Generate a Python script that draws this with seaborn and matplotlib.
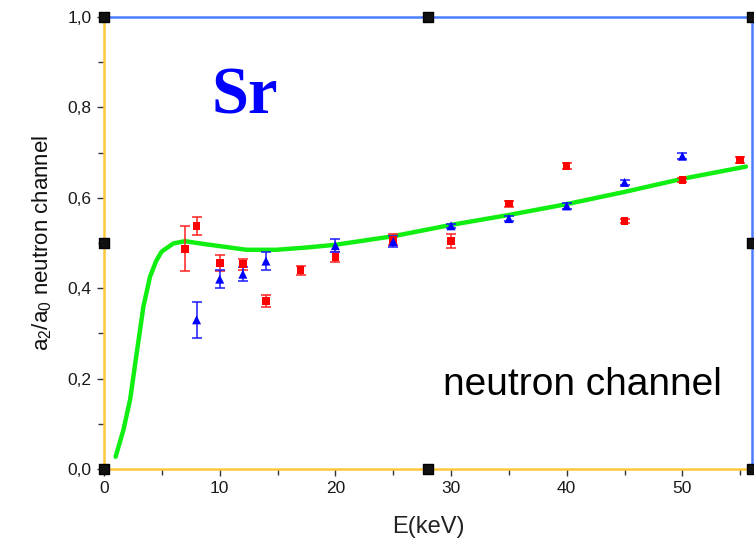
import matplotlib
matplotlib.use("Agg")
import matplotlib.pyplot as plt
from matplotlib.ticker import MultipleLocator, FuncFormatter
import pandas as pd
import seaborn as sns

# Measured anisotropy ratio, two data sets
red_E = [7, 8, 10, 12, 14, 17, 20, 25, 30, 35, 40, 45, 50, 55]
red_ratio = [0.487, 0.538, 0.456, 0.453, 0.372, 0.440, 0.469, 0.507,
             0.504, 0.587, 0.670, 0.549, 0.639, 0.684]
red_err = [0.050, 0.020, 0.018, 0.012, 0.013, 0.010, 0.011, 0.012,
           0.016, 0.007, 0.006, 0.005, 0.004, 0.006]

blue_E = [8, 10, 12, 14, 20, 25, 30, 35, 40, 45, 50]
blue_ratio = [0.330, 0.420, 0.431, 0.460, 0.494, 0.503, 0.538, 0.554,
              0.582, 0.634, 0.692]
blue_err = [0.040, 0.020, 0.016, 0.020, 0.015, 0.012, 0.005, 0.006,
            0.006, 0.006, 0.006]

# Calculated curve
calc_E = [1.0, 1.67, 2.25, 2.82, 3.4, 3.97, 4.5, 4.98, 5.99, 7.0, 8.3, 10.3,
          12.3, 14.9, 17.5, 20, 25, 30, 35, 40, 45, 50, 55.5]
calc_ratio = [0.027, 0.086, 0.153, 0.256, 0.359, 0.425, 0.460, 0.481, 0.499,
              0.504, 0.499, 0.492, 0.485, 0.485, 0.490, 0.496, 0.515, 0.540,
              0.562, 0.586, 0.613, 0.642, 0.669]

x_ticks = [0, 10, 20, 30, 40, 50]
y_ticks = [0.0, 0.2, 0.4, 0.6, 0.8, 1.0]

sns.set_style("white")
plt.rcParams["font.family"] = ["Liberation Sans", "DejaVu Sans"]
plt.rcParams["mathtext.fontset"] = "custom"
plt.rcParams["mathtext.rm"] = "Liberation Sans"
plt.rcParams["mathtext.it"] = "Liberation Sans"

fig = plt.figure(figsize=(7.54, 5.43), dpi=100)
ax = fig.add_axes([0.138, 0.1363, 0.859, 0.8324])

calc = pd.DataFrame({"E": calc_E, "r": calc_ratio})
sns.lineplot(data=calc, x="E", y="r", ax=ax, color="#11ee11", lw=3.2,
             sort=False, zorder=2)

red = pd.DataFrame({"E": red_E, "r": red_ratio, "err": red_err})
blue = pd.DataFrame({"E": blue_E, "r": blue_ratio, "err": blue_err})

ax.errorbar(red["E"], red["r"], yerr=red["err"], fmt="none", ecolor="#ff2020",
            elinewidth=1.1, capsize=3.5, capthick=1.1, zorder=3)
ax.errorbar(blue["E"], blue["r"], yerr=blue["err"], fmt="none", ecolor="#1a1aff",
            elinewidth=1.1, capsize=3.5, capthick=1.1, zorder=3)
sns.scatterplot(data=red, x="E", y="r", ax=ax, marker="s", s=30,
                color="#ff0000", edgecolor="none", zorder=4)
sns.scatterplot(data=blue, x="E", y="r", ax=ax, marker="^", s=42,
                color="#0000ff", edgecolor="none", zorder=5)

ax.set_xlim(0, 56)
ax.set_ylim(0, 1.0)
ax.set_xticks(x_ticks)
ax.set_yticks(y_ticks)
ax.xaxis.set_minor_locator(MultipleLocator(5))
ax.yaxis.set_minor_locator(MultipleLocator(0.1))
ax.yaxis.set_major_formatter(FuncFormatter(lambda v, p: f"{v:.1f}".replace(".", ",")))
ax.xaxis.set_major_formatter(FuncFormatter(lambda v, p: f"{v:.0f}"))

ax.tick_params(axis="both", which="major", direction="out", length=5, width=1,
               color="#333333", labelsize=12.5, labelcolor="#1a1a1a", pad=4,
               bottom=True, left=True)
ax.tick_params(axis="both", which="minor", direction="out", length=4, width=1,
               color="#333333", bottom=True, left=True)

for side in ("left", "bottom"):
    ax.spines[side].set_color("#ffc83c")
    ax.spines[side].set_linewidth(1.8)
for side in ("top", "right"):
    ax.spines[side].set_color("#4a7dff")
    ax.spines[side].set_linewidth(1.8)

# frame selection handles
hx = [0, 28, 56, 0, 56, 0, 28, 56]
hy = [0, 0, 0, 0.5, 0.5, 1.0, 1.0, 1.0]
ax.scatter(hx, hy, marker="s", s=42, color="#111111", edgecolor="#000000",
           zorder=6, clip_on=False)

ax.set_xlabel("E(keV)", fontsize=17, color="#222222", labelpad=14)
ax.set_ylabel(r"a$_2$/a$_0$ neutron channel", fontsize=16, color="#111111",
              labelpad=10)

ax.text(0.2176, 0.823, "Sr", transform=ax.transAxes, ha="center", va="center",
        fontsize=48, fontweight="bold", color="#0000ff",
        family=["Liberation Serif", "DejaVu Serif"])
ax.text(0.739, 0.186, "neutron channel", transform=ax.transAxes, ha="center",
        va="center", fontsize=28, color="#000000")

fig.savefig("out.png", dpi=100)
